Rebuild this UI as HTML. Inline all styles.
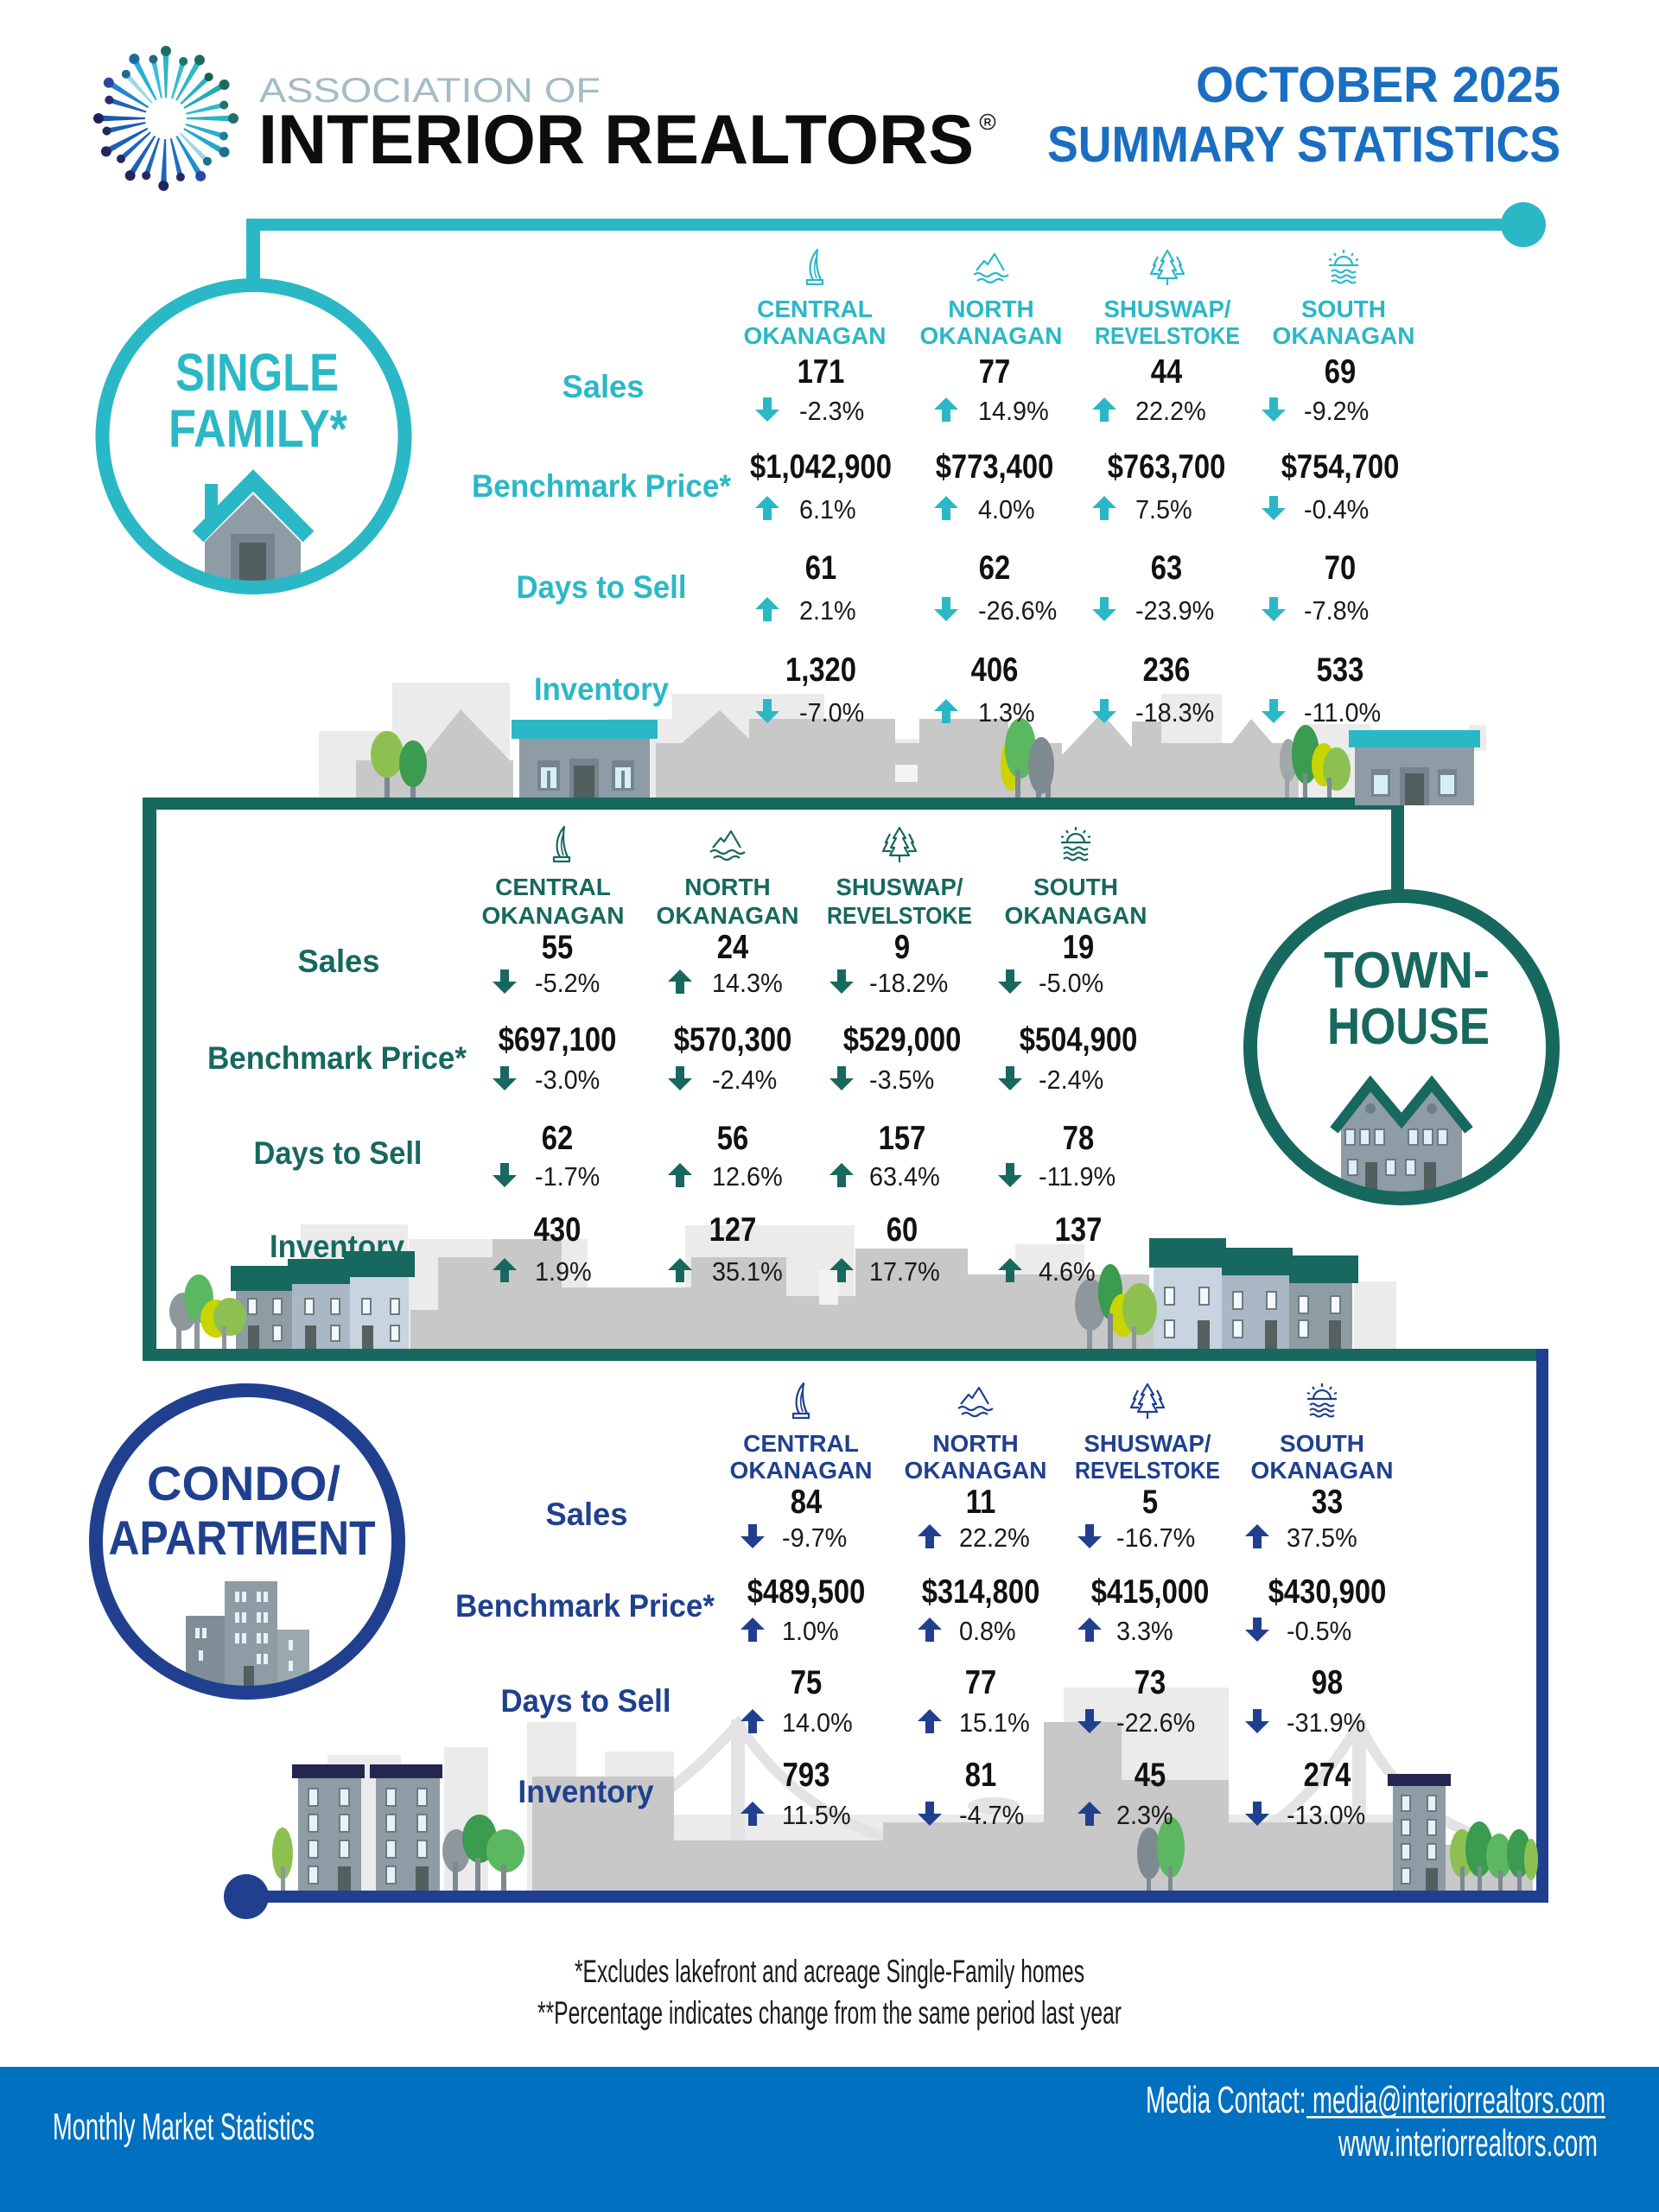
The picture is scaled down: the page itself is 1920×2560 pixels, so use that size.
<!DOCTYPE html>
<html><head><meta charset="utf-8"><style>
html,body{margin:0;padding:0;background:#fff;}
svg{display:block;}
text{font-family:"Liberation Sans",Arial,sans-serif;}
.v{font-weight:bold;font-size:39px;fill:#111;}
.p{font-size:31px;fill:#1a1a1a;}
.h{font-weight:bold;font-size:28px;}
.l{font-weight:bold;font-size:37px;}
.lg{fill:#ebebeb}.mg{fill:#c8c8c8}
</style></head><body>
<svg width="1920" height="2560" viewBox="0 0 1920 2560" xmlns="http://www.w3.org/2000/svg">
<rect width="1920" height="2560" fill="#fff"/>
<defs>
<clipPath id="c1"><circle cx="293.5" cy="505" r="172"/></clipPath>
<clipPath id="c2"><circle cx="1622" cy="1212" r="172"/></clipPath>
<clipPath id="c3"><circle cx="286" cy="1784" r="172"/></clipPath>
</defs>

<!-- ===== LOGO STARBURST ===== -->
<g transform="translate(192 137)">
<g transform="rotate(0)"><polygon points="-1,-24 1,-24 3.5,-78 -3.5,-78" fill="#2fb3c6"/><circle cx="0" cy="-78" r="6" fill="#1b6f62"/></g>
<g transform="rotate(17)"><polygon points="-1,-24 1,-24 3,-69 -3,-69" fill="#3bbccc"/><circle cx="0" cy="-69" r="5" fill="#1d7868"/></g>
<g transform="rotate(30)"><polygon points="-1,-24 1,-24 3.5,-78 -3.5,-78" fill="#34b6c6"/><circle cx="0" cy="-78" r="6" fill="#1a6e5e"/></g>
<g transform="rotate(46)"><polygon points="-1,-24 1,-24 3,-69 -3,-69" fill="#2aaebc"/><circle cx="0" cy="-69" r="5" fill="#175f50"/></g>
<g transform="rotate(60)"><polygon points="-1,-24 1,-24 3.5,-78 -3.5,-78" fill="#27a9b8"/><circle cx="0" cy="-78" r="6" fill="#1a6b5c"/></g>
<g transform="rotate(77)"><polygon points="-1,-24 1,-24 3,-69 -3,-69" fill="#33b9c7"/><circle cx="0" cy="-69" r="5" fill="#1d7669"/></g>
<g transform="rotate(90)"><polygon points="-1,-24 1,-24 3.5,-78 -3.5,-78" fill="#2ab4c4"/><circle cx="0" cy="-78" r="6" fill="#226f68"/></g>
<g transform="rotate(107)"><polygon points="-1,-24 1,-24 3,-70 -3,-70" fill="#27aed0"/><circle cx="0" cy="-70" r="5" fill="#1f7f98"/></g>
<g transform="rotate(120)"><polygon points="-1,-24 1,-24 3.5,-78 -3.5,-78" fill="#25a6cc"/><circle cx="0" cy="-78" r="6" fill="#1f6f90"/></g>
<g transform="rotate(136)"><polygon points="-1,-24 1,-24 3,-69 -3,-69" fill="#9fd4e4"/><circle cx="0" cy="-69" r="5" fill="#1e6f8a"/></g>
<g transform="rotate(149)"><polygon points="-1,-24 1,-24 3.5,-78 -3.5,-78" fill="#1f8ed0"/><circle cx="0" cy="-78" r="6" fill="#2a46a6"/></g>
<g transform="rotate(166)"><polygon points="-1,-24 1,-24 3,-70 -3,-70" fill="#1f6ec0"/><circle cx="0" cy="-70" r="5" fill="#24296a"/></g>
<g transform="rotate(182)"><polygon points="-1,-24 1,-24 3.5,-78 -3.5,-78" fill="#1e64bb"/><circle cx="0" cy="-78" r="6" fill="#212260"/></g>
<g transform="rotate(199)"><polygon points="-1,-24 1,-24 3,-70 -3,-70" fill="#1f68bd"/><circle cx="0" cy="-70" r="5" fill="#242a6a"/></g>
<g transform="rotate(212)"><polygon points="-1,-24 1,-24 3.5,-78 -3.5,-78" fill="#1f62b8"/><circle cx="0" cy="-78" r="6" fill="#23275f"/></g>
<g transform="rotate(228)"><polygon points="-1,-24 1,-24 3,-70 -3,-70" fill="#1e64ba"/><circle cx="0" cy="-70" r="5" fill="#242866"/></g>
<g transform="rotate(241)"><polygon points="-1,-24 1,-24 3.5,-79 -3.5,-79" fill="#1e60b6"/><circle cx="0" cy="-79" r="6" fill="#232660"/></g>
<g transform="rotate(258)"><polygon points="-1,-24 1,-24 3,-70 -3,-70" fill="#1e5db3"/><circle cx="0" cy="-70" r="5" fill="#252866"/></g>
<g transform="rotate(270)"><polygon points="-1,-24 1,-24 3.5,-78 -3.5,-78" fill="#1c58ae"/><circle cx="0" cy="-78" r="6" fill="#201f5c"/></g>
<g transform="rotate(288)"><polygon points="-1,-24 1,-24 3,-69 -3,-69" fill="#1f62b8"/><circle cx="0" cy="-69" r="5" fill="#262c6e"/></g>
<g transform="rotate(302)"><polygon points="-1,-24 1,-24 3.5,-78 -3.5,-78" fill="#2386cb"/><circle cx="0" cy="-78" r="6" fill="#2b47a6"/></g>
<g transform="rotate(318)"><polygon points="-1,-24 1,-24 3,-69 -3,-69" fill="#9ed5e8"/><circle cx="0" cy="-69" r="5" fill="#1e6a8e"/></g>
<g transform="rotate(332)"><polygon points="-1,-24 1,-24 3.5,-78 -3.5,-78" fill="#2aaed4"/><circle cx="0" cy="-78" r="6" fill="#1d6a98"/></g>
<g transform="rotate(348)"><polygon points="-1,-24 1,-24 3,-70 -3,-70" fill="#3cbcd6"/><circle cx="0" cy="-70" r="5" fill="#1e6882"/></g>
</g>

<text x="300" y="118" font-size="40" fill="#a3bcc6" textLength="395" lengthAdjust="spacingAndGlyphs">ASSOCIATION OF</text>
<text x="299" y="189" font-size="81" font-weight="bold" fill="#0d0d0d" textLength="828" lengthAdjust="spacingAndGlyphs">INTERIOR REALTORS</text>
<circle cx="1143" cy="141" r="8.5" fill="none" stroke="#222" stroke-width="1.6"/>
<text x="1143" y="145.5" font-size="12" font-weight="bold" text-anchor="middle" fill="#222">R</text>
<text x="1806" y="118" font-size="58" font-weight="bold" fill="#1a6ec1" text-anchor="end" textLength="422" lengthAdjust="spacingAndGlyphs">OCTOBER 2025</text>
<text x="1806" y="187" font-size="58" font-weight="bold" fill="#1a6ec1" text-anchor="end" textLength="594" lengthAdjust="spacingAndGlyphs">SUMMARY STATISTICS</text>

<!-- ===== SECTION 1: SINGLE FAMILY (teal) ===== -->
<rect x="285" y="253" width="1478" height="14" fill="#2bb8c6"/>
<circle cx="1763" cy="260" r="26" fill="#2bb8c6"/>
<rect x="285" y="253" width="16" height="80" fill="#2bb8c6"/>
<g clip-path="url(#c1)">
<polygon points="237,627 293,572 348,627 348,690 237,690" fill="#8d9ca5"/>
<rect x="267" y="618" width="51" height="72" fill="#76858d"/>
<rect x="277" y="628" width="31" height="62" fill="#525f5f"/>
<rect x="237" y="560" width="15" height="40" fill="#2bb8c6"/>
<polyline points="229,621 293,556 357,621" fill="none" stroke="#2bb8c6" stroke-width="18"/>
</g>
<circle cx="293.5" cy="505" r="175" fill="none" stroke="#2bb8c6" stroke-width="16"/>
<text x="297.5" y="452" text-anchor="middle" font-size="61" font-weight="bold" fill="#2bb8c6" textLength="189" lengthAdjust="spacingAndGlyphs">SINGLE</text>
<text x="298.5" y="517" text-anchor="middle" font-size="61" font-weight="bold" fill="#2bb8c6" textLength="207" lengthAdjust="spacingAndGlyphs">FAMILY*</text>

<!-- icons sec1 -->
<g fill="none" stroke="#2bb8c6" stroke-width="2.2" stroke-linejoin="round">
<g transform="translate(921 287)"><path d="M13,37 L31,37 L31,42 L13,42 Z"/><path d="M20,37 C14,27 16,12 25,2 C23,14 24,26 29,37"/><path d="M24,35 C21,27 21,18 24,10" stroke-width="1.6"/></g>
<g transform="translate(1125 287)"><path d="M5,26 L14,15 L18,19 L26,7 L37,26"/><path d="M2,31 q5,-4 10,0 t10,0 t10,0 t10,0"/><path d="M6,38 q5,-4 10,0 t10,0 t10,0"/></g>
<g transform="translate(1329 287)"><path d="M22,3 L15,15 L18,15 L12,26 L16,26 L11,35 L33,35 L28,26 L32,26 L26,15 L29,15 Z"/><path d="M11,10 L6,20 L8,20 L3,30 L12,30"/><path d="M33,10 L38,20 L36,20 L41,30 L32,30"/><path d="M22,35 L22,43"/></g>
<g transform="translate(1533 287)"><path d="M12,20 A10,10 0 0 1 32,20"/><path d="M5,20 L39,20"/><path d="M22,2 L22,6 M11,6 L13,9 M33,6 L31,9 M5,13 L8,14 M39,13 L36,14"/><path d="M8,27 q3.5,-3 7,0 t7,0 t7,0 t7,0"/><path d="M8,33 q3.5,-3 7,0 t7,0 t7,0 t7,0"/><path d="M8,39 q3.5,-3 7,0 t7,0 t7,0 t7,0"/></g>
</g>
<g class="h" fill="#2bb8c6" text-anchor="middle">
<text x="943" y="367">CENTRAL</text><text x="943" y="398">OKANAGAN</text>
<text x="1147" y="367">NORTH</text><text x="1147" y="398">OKANAGAN</text>
<text x="1351" y="367" textLength="147" lengthAdjust="spacingAndGlyphs">SHUSWAP/</text><text x="1351" y="398" textLength="168" lengthAdjust="spacingAndGlyphs">REVELSTOKE</text>
<text x="1555" y="367">SOUTH</text><text x="1555" y="398">OKANAGAN</text>
</g>

<!-- skyline sec1 -->
<g>
<rect class="lg" x="369" y="846" width="86" height="77"/>
<rect class="lg" x="454" y="790" width="136" height="133"/>
<rect class="lg" x="702" y="832" width="76" height="91"/>
<rect class="lg" x="778" y="803" width="176" height="120"/>
<rect class="lg" x="1036" y="855" width="28" height="68"/>
<rect class="lg" x="1344" y="803" width="70" height="120"/>
<rect class="lg" x="1505" y="838" width="82" height="85"/>
<rect class="lg" x="1700" y="839" width="20" height="30"/>
<rect class="mg" x="412" y="880" width="182" height="43"/>
<polygon class="mg" points="486,880 533,821 590,880"/>
<rect class="mg" x="759" y="860" width="470" height="63"/>
<polygon class="mg" points="789,860 833,822 872,860"/>
<rect class="mg" x="867" y="832" width="169" height="91"/>
<rect class="mg" x="1064" y="832" width="103" height="91"/>
<rect class="mg" x="1223" y="880" width="280" height="43"/>
<polygon class="mg" points="1223,880 1275,825 1323,880"/>
<rect class="mg" x="1310" y="835" width="34" height="88"/>
<rect class="mg" x="1344" y="860" width="143" height="63"/>
<polygon class="mg" points="1410,880 1448,832 1490,880"/>
<rect x="1036" y="885" width="26" height="20" fill="#f4f4f4"/>
<!-- house 1 -->
<rect x="592" y="833" width="169" height="22" fill="#2bb8c6"/>
<rect x="601" y="855" width="151" height="68" fill="#8d9ca5"/>
<rect x="622" y="880" width="26" height="35" fill="#76858d"/><rect x="626" y="888" width="18" height="24" fill="#d6eef5"/><rect x="633" y="892" width="4" height="20" fill="#76858d"/>
<rect x="708" y="880" width="26" height="35" fill="#76858d"/><rect x="712" y="888" width="18" height="24" fill="#d6eef5"/><rect x="719" y="892" width="4" height="20" fill="#76858d"/>
<rect x="659" y="878" width="34" height="45" fill="#76858d"/><rect x="664" y="886" width="24" height="37" fill="#525f5f"/>
<!-- trees -->
<rect x="445" y="885" width="6" height="38" fill="#7d8a8f"/><ellipse cx="448" cy="873" rx="19" ry="27" fill="#8cc152"/>
<rect x="475" y="890" width="6" height="33" fill="#7d8a8f"/><ellipse cx="478" cy="884" rx="16" ry="27" fill="#3b9b4f"/>
<ellipse cx="1170" cy="885" rx="12" ry="30" fill="#c9d400"/>
<ellipse cx="1181" cy="866" rx="18" ry="35" fill="#5cb860"/>
<rect x="1175" y="890" width="6" height="33" fill="#7d8a8f"/>
<ellipse cx="1205" cy="886" rx="15" ry="33" fill="#7d8a8f"/>
<rect x="1199" y="905" width="6" height="18" fill="#7d8a8f"/><rect x="1210" y="905" width="6" height="18" fill="#7d8a8f"/>
<ellipse cx="1491" cy="880" rx="10" ry="25" fill="#a0a8aa"/>
<ellipse cx="1511" cy="873" rx="16" ry="34" fill="#3b9b4f"/>
<ellipse cx="1532" cy="885" rx="14" ry="25" fill="#c9d400"/>
<ellipse cx="1547" cy="890" rx="16" ry="25" fill="#8cc152"/>
<rect x="1487" y="895" width="5" height="28" fill="#9aa4a6"/><rect x="1508" y="895" width="5" height="28" fill="#7d8a8f"/><rect x="1536" y="900" width="5" height="23" fill="#7d8a8f"/>
</g>

<!-- ===== SECTION 2 BOX ===== -->
<rect x="165" y="923" width="1460" height="14" fill="#17685e"/>
<rect x="165" y="923" width="16" height="652" fill="#17685e"/>
<rect x="1610" y="923" width="15" height="110" fill="#17685e"/>
<rect x="165" y="1561" width="1615" height="14" fill="#17685e"/>

<!-- house 2 (on top of line) -->
<rect x="1561" y="845" width="152" height="20" fill="#2bb8c6"/>
<rect x="1568" y="865" width="138" height="67" fill="#8d9ca5"/>
<rect x="1587" y="890" width="22" height="32" fill="#76858d"/><rect x="1590" y="897" width="16" height="22" fill="#d6eef5"/>
<rect x="1664" y="890" width="22" height="32" fill="#76858d"/><rect x="1667" y="897" width="16" height="22" fill="#d6eef5"/>
<rect x="1620" y="888" width="34" height="44" fill="#76858d"/><rect x="1626" y="895" width="22" height="37" fill="#525f5f"/>

<!-- sec1 labels and values -->
<g class="l" fill="#2bb8c6" text-anchor="middle">
<text x="698" y="460" textLength="95" lengthAdjust="spacingAndGlyphs">Sales</text>
<text x="696" y="575" textLength="300" lengthAdjust="spacingAndGlyphs">Benchmark Price*</text>
<text x="696" y="692" textLength="197" lengthAdjust="spacingAndGlyphs">Days to Sell</text>
<text x="696" y="810" textLength="156" lengthAdjust="spacingAndGlyphs">Inventory</text>
</g>
<g class="v" text-anchor="middle">
<text transform="translate(950 443) scale(0.84 1)">171</text>
<text transform="translate(1151 443) scale(0.84 1)">77</text>
<text transform="translate(1350 443) scale(0.84 1)">44</text>
<text transform="translate(1551 443) scale(0.84 1)">69</text>
<text transform="translate(950 553) scale(0.84 1)">$1,042,900</text>
<text transform="translate(1151 553) scale(0.84 1)">$773,400</text>
<text transform="translate(1350 553) scale(0.84 1)">$763,700</text>
<text transform="translate(1551 553) scale(0.84 1)">$754,700</text>
<text transform="translate(950 670) scale(0.84 1)">61</text>
<text transform="translate(1151 670) scale(0.84 1)">62</text>
<text transform="translate(1350 670) scale(0.84 1)">63</text>
<text transform="translate(1551 670) scale(0.84 1)">70</text>
<text transform="translate(950 788) scale(0.84 1)">1,320</text>
<text transform="translate(1151 788) scale(0.84 1)">406</text>
<text transform="translate(1350 788) scale(0.84 1)">236</text>
<text transform="translate(1551 788) scale(0.84 1)">533</text>
</g>
<g class="p">
<text transform="translate(925 486) scale(0.93 1)">-2.3%</text>
<text transform="translate(1132 486) scale(0.93 1)">14.9%</text>
<text transform="translate(1314 486) scale(0.93 1)">22.2%</text>
<text transform="translate(1509 486) scale(0.93 1)">-9.2%</text>
<text transform="translate(925 600) scale(0.93 1)">6.1%</text>
<text transform="translate(1132 600) scale(0.93 1)">4.0%</text>
<text transform="translate(1314 600) scale(0.93 1)">7.5%</text>
<text transform="translate(1509 600) scale(0.93 1)">-0.4%</text>
<text transform="translate(925 717) scale(0.93 1)">2.1%</text>
<text transform="translate(1132 717) scale(0.93 1)">-26.6%</text>
<text transform="translate(1314 717) scale(0.93 1)">-23.9%</text>
<text transform="translate(1509 717) scale(0.93 1)">-7.8%</text>
<text transform="translate(925 835) scale(0.93 1)">-7.0%</text>
<text transform="translate(1132 835) scale(0.93 1)">1.3%</text>
<text transform="translate(1314 835) scale(0.93 1)">-18.3%</text>
<text transform="translate(1509 835) scale(0.93 1)">-11.0%</text>
</g>
<g fill="#2bb8c6">
<polygon transform="translate(888 474)" points="-5,-14 5,-14 5,0 14,0 0,14 -14,0 -5,0"/>
<polygon transform="translate(1095 474)" points="-5,14 5,14 5,0 14,0 0,-14 -14,0 -5,0"/>
<polygon transform="translate(1278 474)" points="-5,14 5,14 5,0 14,0 0,-14 -14,0 -5,0"/>
<polygon transform="translate(1474 474)" points="-5,-14 5,-14 5,0 14,0 0,14 -14,0 -5,0"/>
<polygon transform="translate(888 588)" points="-5,14 5,14 5,0 14,0 0,-14 -14,0 -5,0"/>
<polygon transform="translate(1095 588)" points="-5,14 5,14 5,0 14,0 0,-14 -14,0 -5,0"/>
<polygon transform="translate(1278 588)" points="-5,14 5,14 5,0 14,0 0,-14 -14,0 -5,0"/>
<polygon transform="translate(1474 588)" points="-5,-14 5,-14 5,0 14,0 0,14 -14,0 -5,0"/>
<polygon transform="translate(888 705)" points="-5,14 5,14 5,0 14,0 0,-14 -14,0 -5,0"/>
<polygon transform="translate(1095 705)" points="-5,-14 5,-14 5,0 14,0 0,14 -14,0 -5,0"/>
<polygon transform="translate(1278 705)" points="-5,-14 5,-14 5,0 14,0 0,14 -14,0 -5,0"/>
<polygon transform="translate(1474 705)" points="-5,-14 5,-14 5,0 14,0 0,14 -14,0 -5,0"/>
<polygon transform="translate(888 823)" points="-5,-14 5,-14 5,0 14,0 0,14 -14,0 -5,0"/>
<polygon transform="translate(1095 823)" points="-5,14 5,14 5,0 14,0 0,-14 -14,0 -5,0"/>
<polygon transform="translate(1278 823)" points="-5,-14 5,-14 5,0 14,0 0,14 -14,0 -5,0"/>
<polygon transform="translate(1474 823)" points="-5,-14 5,-14 5,0 14,0 0,14 -14,0 -5,0"/>
</g>

<!-- ===== SECTION 2: TOWNHOUSE (green) ===== -->
<g clip-path="url(#c2)">
<polygon points="1552,1302 1586,1260 1622,1300 1657,1260 1692,1302 1692,1395 1552,1395" fill="#8d9ca5"/>
<circle cx="1586" cy="1283" r="6" fill="#6f7f88"/><circle cx="1657" cy="1283" r="6" fill="#6f7f88"/>
<g fill="#dcf0f6" stroke="#6c7b83" stroke-width="2">
<rect x="1557" y="1307" width="11" height="18"/><rect x="1574" y="1307" width="11" height="18"/><rect x="1591" y="1307" width="11" height="18"/>
<rect x="1630" y="1307" width="11" height="18"/><rect x="1647" y="1307" width="11" height="18"/><rect x="1664" y="1307" width="11" height="18"/>
<rect x="1560" y="1342" width="11" height="18"/><rect x="1604" y="1342" width="11" height="18"/><rect x="1627" y="1342" width="11" height="18"/>
</g>
<rect x="1580" y="1345" width="14" height="40" fill="#525f5f"/><rect x="1648" y="1345" width="14" height="40" fill="#525f5f"/>
<polyline points="1544,1308 1586,1254 1622,1297 1657,1254 1700,1308" fill="none" stroke="#17685e" stroke-width="12"/>
</g>
<circle cx="1622" cy="1212" r="175" fill="none" stroke="#17685e" stroke-width="16"/>
<text x="1628" y="1143" text-anchor="middle" font-size="59" font-weight="bold" fill="#17685e" textLength="192" lengthAdjust="spacingAndGlyphs">TOWN-</text>
<text x="1630" y="1208" text-anchor="middle" font-size="59" font-weight="bold" fill="#17685e" textLength="188" lengthAdjust="spacingAndGlyphs">HOUSE</text>

<g fill="none" stroke="#17685e" stroke-width="2.2" stroke-linejoin="round">
<g transform="translate(628 955)"><path d="M13,37 L31,37 L31,42 L13,42 Z"/><path d="M20,37 C14,27 16,12 25,2 C23,14 24,26 29,37"/><path d="M24,35 C21,27 21,18 24,10" stroke-width="1.6"/></g>
<g transform="translate(820 955)"><path d="M5,26 L14,15 L18,19 L26,7 L37,26"/><path d="M2,31 q5,-4 10,0 t10,0 t10,0 t10,0"/><path d="M6,38 q5,-4 10,0 t10,0 t10,0"/></g>
<g transform="translate(1019 955)"><path d="M22,3 L15,15 L18,15 L12,26 L16,26 L11,35 L33,35 L28,26 L32,26 L26,15 L29,15 Z"/><path d="M11,10 L6,20 L8,20 L3,30 L12,30"/><path d="M33,10 L38,20 L36,20 L41,30 L32,30"/><path d="M22,35 L22,43"/></g>
<g transform="translate(1223 955)"><path d="M12,20 A10,10 0 0 1 32,20"/><path d="M5,20 L39,20"/><path d="M22,2 L22,6 M11,6 L13,9 M33,6 L31,9 M5,13 L8,14 M39,13 L36,14"/><path d="M8,27 q3.5,-3 7,0 t7,0 t7,0 t7,0"/><path d="M8,33 q3.5,-3 7,0 t7,0 t7,0 t7,0"/><path d="M8,39 q3.5,-3 7,0 t7,0 t7,0 t7,0"/></g>
</g>
<g class="h" fill="#17685e" text-anchor="middle">
<text x="640" y="1036">CENTRAL</text><text x="640" y="1069">OKANAGAN</text>
<text x="842" y="1036">NORTH</text><text x="842" y="1069">OKANAGAN</text>
<text x="1041" y="1036" textLength="147" lengthAdjust="spacingAndGlyphs">SHUSWAP/</text><text x="1041" y="1069" textLength="168" lengthAdjust="spacingAndGlyphs">REVELSTOKE</text>
<text x="1245" y="1036">SOUTH</text><text x="1245" y="1069">OKANAGAN</text>
</g>

<!-- skyline sec2 background -->
<g>
<rect class="lg" x="348" y="1417" width="124" height="144"/>
<rect class="lg" x="473" y="1434" width="207" height="127"/>
<rect class="lg" x="793" y="1418" width="196" height="143"/>
<rect class="lg" x="1175" y="1440" width="80" height="121"/>
<rect class="lg" x="1567" y="1483" width="49" height="78"/>
<rect class="mg" x="507" y="1455" width="63" height="106"/>
<rect class="mg" x="570" y="1434" width="80" height="127"/>
<rect class="mg" x="650" y="1490" width="150" height="71"/>
<rect class="mg" x="800" y="1455" width="110" height="106"/>
<rect class="mg" x="910" y="1500" width="80" height="61"/>
<rect class="mg" x="990" y="1445" width="130" height="116"/>
<rect class="mg" x="1120" y="1475" width="210" height="86"/>
<rect class="mg" x="475" y="1516" width="860" height="45"/>
<rect x="948" y="1470" width="22" height="40" fill="#f2f2f2"/>
</g>

<!-- Inventory label sec2 (over skyline, behind roofs) -->
<text class="l" x="390" y="1455" fill="#17685e" text-anchor="middle" textLength="156" lengthAdjust="spacingAndGlyphs">Inventory</text>

<g>
<!-- left townhouses -->
<rect x="267" y="1465" width="73" height="29" fill="#17685e"/>
<rect x="333" y="1457" width="74" height="29" fill="#17685e"/>
<rect x="398" y="1448" width="82" height="30" fill="#17685e"/>
<rect x="273" y="1494" width="65" height="67" fill="#8e9ca4"/>
<rect x="338" y="1486" width="67" height="75" fill="#a9b8c4"/>
<rect x="405" y="1478" width="68" height="83" fill="#c8d4df"/>
<g fill="#f2f8fb" stroke="#6c7b83" stroke-width="2">
<rect x="287" y="1503" width="10" height="18"/><rect x="316" y="1503" width="10" height="18"/>
<rect x="353" y="1503" width="10" height="18"/><rect x="383" y="1503" width="10" height="18"/>
<rect x="419" y="1503" width="10" height="18"/><rect x="452" y="1503" width="10" height="18"/>
<rect x="316" y="1534" width="10" height="18"/><rect x="383" y="1534" width="10" height="18"/><rect x="452" y="1534" width="10" height="18"/>
</g>
<rect x="287" y="1534" width="13" height="27" fill="#56605f"/><rect x="353" y="1534" width="13" height="27" fill="#56605f"/><rect x="419" y="1534" width="13" height="27" fill="#56605f"/>
<ellipse cx="212" cy="1518" rx="16" ry="22" fill="#8e979b"/>
<ellipse cx="230" cy="1503" rx="17" ry="28" fill="#5cb860"/>
<ellipse cx="250" cy="1526" rx="18" ry="22" fill="#c9d400"/>
<ellipse cx="266" cy="1524" rx="19" ry="22" fill="#8cc152"/>
<rect x="204" y="1530" width="6" height="31" fill="#8e979b"/><rect x="225" y="1525" width="6" height="36" fill="#8e979b"/><rect x="257" y="1535" width="5" height="26" fill="#8e979b"/>
<!-- right townhouses -->
<rect x="1330" y="1433" width="89" height="34" fill="#17685e"/>
<rect x="1414" y="1444" width="82" height="32" fill="#17685e"/>
<rect x="1490" y="1453" width="82" height="32" fill="#17685e"/>
<rect x="1335" y="1467" width="79" height="94" fill="#c8d4df"/>
<rect x="1414" y="1476" width="78" height="85" fill="#a9b8c4"/>
<rect x="1492" y="1485" width="73" height="76" fill="#8e9ca4"/>
<g fill="#f2f8fb" stroke="#6c7b83" stroke-width="2">
<rect x="1348" y="1490" width="11" height="20"/><rect x="1388" y="1490" width="11" height="20"/>
<rect x="1427" y="1495" width="11" height="20"/><rect x="1466" y="1495" width="11" height="20"/>
<rect x="1503" y="1500" width="11" height="20"/><rect x="1540" y="1500" width="11" height="20"/>
<rect x="1348" y="1528" width="11" height="20"/><rect x="1427" y="1528" width="11" height="20"/><rect x="1503" y="1528" width="11" height="20"/>
</g>
<rect x="1386" y="1528" width="14" height="33" fill="#56605f"/><rect x="1464" y="1528" width="14" height="33" fill="#56605f"/><rect x="1538" y="1528" width="14" height="33" fill="#56605f"/>
<ellipse cx="1262" cy="1510" rx="18" ry="30" fill="#8e979b"/>
<ellipse cx="1285" cy="1495" rx="14" ry="32" fill="#3b9b4f"/>
<ellipse cx="1300" cy="1522" rx="16" ry="25" fill="#c9d400"/>
<ellipse cx="1319" cy="1515" rx="20" ry="30" fill="#8cc152"/>
<rect x="1258" y="1530" width="6" height="31" fill="#8e979b"/><rect x="1282" y="1520" width="6" height="41" fill="#7d8a8f"/><rect x="1310" y="1535" width="5" height="26" fill="#8e979b"/>
</g>

<!-- sec2 labels/values -->
<g class="l" fill="#17685e" text-anchor="middle">
<text x="392" y="1125" textLength="95" lengthAdjust="spacingAndGlyphs">Sales</text>
<text x="390" y="1237" textLength="300" lengthAdjust="spacingAndGlyphs">Benchmark Price*</text>
<text x="391" y="1347" textLength="195" lengthAdjust="spacingAndGlyphs">Days to Sell</text>
</g>
<g class="v" text-anchor="middle">
<text transform="translate(645 1109) scale(0.84 1)">55</text>
<text transform="translate(848 1109) scale(0.84 1)">24</text>
<text transform="translate(1044 1109) scale(0.84 1)">9</text>
<text transform="translate(1248 1109) scale(0.84 1)">19</text>
<text transform="translate(645 1216) scale(0.84 1)">$697,100</text>
<text transform="translate(848 1216) scale(0.84 1)">$570,300</text>
<text transform="translate(1044 1216) scale(0.84 1)">$529,000</text>
<text transform="translate(1248 1216) scale(0.84 1)">$504,900</text>
<text transform="translate(645 1330) scale(0.84 1)">62</text>
<text transform="translate(848 1330) scale(0.84 1)">56</text>
<text transform="translate(1044 1330) scale(0.84 1)">157</text>
<text transform="translate(1248 1330) scale(0.84 1)">78</text>
<text transform="translate(645 1436) scale(0.84 1)">430</text>
<text transform="translate(848 1436) scale(0.84 1)">127</text>
<text transform="translate(1044 1436) scale(0.84 1)">60</text>
<text transform="translate(1248 1436) scale(0.84 1)">137</text>
</g>
<g class="p">
<text transform="translate(619 1148) scale(0.93 1)">-5.2%</text>
<text transform="translate(824 1148) scale(0.93 1)">14.3%</text>
<text transform="translate(1006 1148) scale(0.93 1)">-18.2%</text>
<text transform="translate(1202 1148) scale(0.93 1)">-5.0%</text>
<text transform="translate(619 1260) scale(0.93 1)">-3.0%</text>
<text transform="translate(824 1260) scale(0.93 1)">-2.4%</text>
<text transform="translate(1006 1260) scale(0.93 1)">-3.5%</text>
<text transform="translate(1202 1260) scale(0.93 1)">-2.4%</text>
<text transform="translate(619 1372) scale(0.93 1)">-1.7%</text>
<text transform="translate(824 1372) scale(0.93 1)">12.6%</text>
<text transform="translate(1006 1372) scale(0.93 1)">63.4%</text>
<text transform="translate(1202 1372) scale(0.93 1)">-11.9%</text>
<text transform="translate(619 1482) scale(0.93 1)">1.9%</text>
<text transform="translate(824 1482) scale(0.93 1)">35.1%</text>
<text transform="translate(1006 1482) scale(0.93 1)">17.7%</text>
<text transform="translate(1202 1482) scale(0.93 1)">4.6%</text>
</g>
<g fill="#17685e">
<polygon transform="translate(584 1136)" points="-5,-14 5,-14 5,0 14,0 0,14 -14,0 -5,0"/>
<polygon transform="translate(787 1136)" points="-5,14 5,14 5,0 14,0 0,-14 -14,0 -5,0"/>
<polygon transform="translate(974 1136)" points="-5,-14 5,-14 5,0 14,0 0,14 -14,0 -5,0"/>
<polygon transform="translate(1169 1136)" points="-5,-14 5,-14 5,0 14,0 0,14 -14,0 -5,0"/>
<polygon transform="translate(584 1248)" points="-5,-14 5,-14 5,0 14,0 0,14 -14,0 -5,0"/>
<polygon transform="translate(787 1248)" points="-5,-14 5,-14 5,0 14,0 0,14 -14,0 -5,0"/>
<polygon transform="translate(974 1248)" points="-5,-14 5,-14 5,0 14,0 0,14 -14,0 -5,0"/>
<polygon transform="translate(1169 1248)" points="-5,-14 5,-14 5,0 14,0 0,14 -14,0 -5,0"/>
<polygon transform="translate(584 1360)" points="-5,-14 5,-14 5,0 14,0 0,14 -14,0 -5,0"/>
<polygon transform="translate(787 1360)" points="-5,14 5,14 5,0 14,0 0,-14 -14,0 -5,0"/>
<polygon transform="translate(974 1360)" points="-5,14 5,14 5,0 14,0 0,-14 -14,0 -5,0"/>
<polygon transform="translate(1169 1360)" points="-5,-14 5,-14 5,0 14,0 0,14 -14,0 -5,0"/>
<polygon transform="translate(584 1470)" points="-5,14 5,14 5,0 14,0 0,-14 -14,0 -5,0"/>
<polygon transform="translate(787 1470)" points="-5,14 5,14 5,0 14,0 0,-14 -14,0 -5,0"/>
<polygon transform="translate(974 1470)" points="-5,14 5,14 5,0 14,0 0,-14 -14,0 -5,0"/>
<polygon transform="translate(1169 1470)" points="-5,14 5,14 5,0 14,0 0,-14 -14,0 -5,0"/>
</g>

<!-- ===== SECTION 3: CONDO (navy) ===== -->
<rect x="1778" y="1561" width="14" height="641" fill="#20408f"/>
<rect x="285" y="2188" width="1507" height="14" fill="#20408f"/>
<circle cx="285" cy="2195" r="26" fill="#20408f"/>
<g clip-path="url(#c3)">
<rect x="215" y="1870" width="47" height="90" fill="#7f8e96"/>
<rect x="320" y="1886" width="38" height="74" fill="#9aa8af"/>
<rect x="260" y="1830" width="61" height="130" fill="#8d9ca5"/>
<g fill="#e6f2f6">
<rect x="272" y="1842" width="5" height="12"/><rect x="280" y="1842" width="5" height="12"/><rect x="297" y="1842" width="5" height="12"/><rect x="305" y="1842" width="5" height="12"/>
<rect x="272" y="1866" width="5" height="12"/><rect x="280" y="1866" width="5" height="12"/><rect x="297" y="1866" width="5" height="12"/><rect x="305" y="1866" width="5" height="12"/>
<rect x="272" y="1890" width="5" height="12"/><rect x="280" y="1890" width="5" height="12"/><rect x="297" y="1890" width="5" height="12"/><rect x="305" y="1890" width="5" height="12"/>
<rect x="297" y="1914" width="5" height="12"/><rect x="305" y="1914" width="5" height="12"/>
<rect x="226" y="1884" width="5" height="12"/><rect x="234" y="1884" width="5" height="12"/><rect x="230" y="1910" width="5" height="12"/>
<rect x="334" y="1898" width="5" height="12"/><rect x="334" y="1922" width="5" height="12"/>
</g>
<rect x="282" y="1928" width="12" height="32" fill="#525f5f"/>
</g>
<circle cx="286" cy="1784" r="175" fill="none" stroke="#20408f" stroke-width="16"/>
<text x="282" y="1736" text-anchor="middle" font-size="56" font-weight="bold" fill="#20408f" textLength="224" lengthAdjust="spacingAndGlyphs">CONDO/</text>
<text x="280" y="1799" text-anchor="middle" font-size="56" font-weight="bold" fill="#20408f" textLength="309" lengthAdjust="spacingAndGlyphs">APARTMENT</text>

<g fill="none" stroke="#20408f" stroke-width="2.2" stroke-linejoin="round">
<g transform="translate(905 1599)"><path d="M13,37 L31,37 L31,42 L13,42 Z"/><path d="M20,37 C14,27 16,12 25,2 C23,14 24,26 29,37"/><path d="M24,35 C21,27 21,18 24,10" stroke-width="1.6"/></g>
<g transform="translate(1107 1599)"><path d="M5,26 L14,15 L18,19 L26,7 L37,26"/><path d="M2,31 q5,-4 10,0 t10,0 t10,0 t10,0"/><path d="M6,38 q5,-4 10,0 t10,0 t10,0"/></g>
<g transform="translate(1306 1599)"><path d="M22,3 L15,15 L18,15 L12,26 L16,26 L11,35 L33,35 L28,26 L32,26 L26,15 L29,15 Z"/><path d="M11,10 L6,20 L8,20 L3,30 L12,30"/><path d="M33,10 L38,20 L36,20 L41,30 L32,30"/><path d="M22,35 L22,43"/></g>
<g transform="translate(1508 1599)"><path d="M12,20 A10,10 0 0 1 32,20"/><path d="M5,20 L39,20"/><path d="M22,2 L22,6 M11,6 L13,9 M33,6 L31,9 M5,13 L8,14 M39,13 L36,14"/><path d="M8,27 q3.5,-3 7,0 t7,0 t7,0 t7,0"/><path d="M8,33 q3.5,-3 7,0 t7,0 t7,0 t7,0"/><path d="M8,39 q3.5,-3 7,0 t7,0 t7,0 t7,0"/></g>
</g>
<g class="h" fill="#20408f" text-anchor="middle">
<text x="927" y="1680">CENTRAL</text><text x="927" y="1711">OKANAGAN</text>
<text x="1129" y="1680">NORTH</text><text x="1129" y="1711">OKANAGAN</text>
<text x="1328" y="1680" textLength="147" lengthAdjust="spacingAndGlyphs">SHUSWAP/</text><text x="1328" y="1711" textLength="168" lengthAdjust="spacingAndGlyphs">REVELSTOKE</text>
<text x="1530" y="1680">SOUTH</text><text x="1530" y="1711">OKANAGAN</text>
</g>

<!-- skyline sec3 -->
<g>
<rect class="lg" x="379" y="2031" width="85" height="157"/>
<rect class="lg" x="514" y="2022" width="51" height="166"/>
<rect class="lg" x="610" y="1993" width="57" height="195"/>
<rect class="lg" x="700" y="2027" width="80" height="161"/>
<rect class="lg" x="1231" y="1953" width="191" height="235"/>
<rect class="lg" x="780" y="2100" width="840" height="88"/>
<g fill="none" stroke="#e3e3e3" stroke-width="12">
<path d="M700,2120 Q790,2070 854,1995 Q930,2110 1060,2135"/>
<path d="M1430,2135 Q1510,2100 1573,1995 Q1620,2090 1700,2120"/>
</g>
<rect x="846" y="1990" width="16" height="198" fill="#e3e3e3"/>
<rect x="1565" y="1990" width="16" height="198" fill="#e3e3e3"/>
<rect class="mg" x="616" y="2056" width="164" height="132"/>
<rect class="mg" x="780" y="2130" width="242" height="58"/>
<rect class="mg" x="1022" y="2109" width="186" height="79"/>
<rect class="mg" x="1208" y="1993" width="90" height="195"/>
<rect class="mg" x="1298" y="2060" width="124" height="128"/>
<rect class="mg" x="1422" y="2109" width="192" height="79"/>
<rect class="mg" x="1614" y="2135" width="160" height="53"/>
<ellipse cx="1150" cy="2090" rx="30" ry="10" fill="#e3e3e3"/>
<!-- left buildings -->
<rect x="338" y="2042" width="84" height="16" fill="#24264f"/>
<rect x="428" y="2042" width="84" height="16" fill="#24264f"/>
<rect x="345" y="2058" width="73" height="130" fill="#8d9ca5"/>
<rect x="435" y="2058" width="74" height="130" fill="#8d9ca5"/>
<g fill="#e6f2f6" stroke="#6c7b83" stroke-width="2">
<rect x="357" y="2070" width="11" height="20"/><rect x="393" y="2070" width="11" height="20"/><rect x="447" y="2070" width="11" height="20"/><rect x="483" y="2070" width="11" height="20"/>
<rect x="357" y="2100" width="11" height="20"/><rect x="393" y="2100" width="11" height="20"/><rect x="447" y="2100" width="11" height="20"/><rect x="483" y="2100" width="11" height="20"/>
<rect x="357" y="2130" width="11" height="20"/><rect x="393" y="2130" width="11" height="20"/><rect x="447" y="2130" width="11" height="20"/><rect x="483" y="2130" width="11" height="20"/>
<rect x="357" y="2160" width="11" height="20"/><rect x="447" y="2160" width="11" height="20"/>
</g>
<rect x="391" y="2160" width="15" height="28" fill="#525f5f"/><rect x="481" y="2160" width="15" height="28" fill="#525f5f"/>
<!-- right tall building -->
<rect x="1606" y="2053" width="73" height="14" fill="#24264f"/>
<rect x="1612" y="2067" width="61" height="121" fill="#8d9ca5"/>
<g fill="#e6f2f6" stroke="#6c7b83" stroke-width="2">
<rect x="1622" y="2078" width="10" height="18"/><rect x="1652" y="2078" width="10" height="18"/>
<rect x="1622" y="2106" width="10" height="18"/><rect x="1652" y="2106" width="10" height="18"/>
<rect x="1622" y="2134" width="10" height="18"/><rect x="1652" y="2134" width="10" height="18"/>
<rect x="1622" y="2162" width="10" height="18"/>
</g>
<rect x="1650" y="2162" width="14" height="26" fill="#525f5f"/>
<!-- trees -->
<ellipse cx="327" cy="2145" rx="12" ry="30" fill="#8cc152"/><rect x="325" y="2160" width="5" height="28" fill="#8e979b"/>
<ellipse cx="528" cy="2142" rx="16" ry="25" fill="#8e979b"/>
<ellipse cx="555" cy="2128" rx="20" ry="28" fill="#3b9b4f"/>
<ellipse cx="585" cy="2142" rx="22" ry="25" fill="#5cb860"/>
<rect x="524" y="2155" width="6" height="33" fill="#7d8a8f"/><rect x="550" y="2150" width="6" height="38" fill="#7d8a8f"/><rect x="580" y="2158" width="6" height="30" fill="#7d8a8f"/>
<ellipse cx="1330" cy="2145" rx="14" ry="30" fill="#7d8a8f"/>
<ellipse cx="1355" cy="2138" rx="16" ry="35" fill="#5cb860"/>
<rect x="1327" y="2160" width="5" height="28" fill="#7d8a8f"/><rect x="1352" y="2160" width="5" height="28" fill="#7d8a8f"/>
<ellipse cx="1692" cy="2145" rx="14" ry="28" fill="#8cc152"/>
<ellipse cx="1712" cy="2140" rx="16" ry="32" fill="#3b9b4f"/>
<ellipse cx="1735" cy="2148" rx="15" ry="26" fill="#5cb860"/>
<ellipse cx="1758" cy="2145" rx="14" ry="28" fill="#3b9b4f"/>
<ellipse cx="1772" cy="2152" rx="8" ry="24" fill="#8cc152"/>
<rect x="1690" y="2160" width="5" height="28" fill="#7d8a8f"/><rect x="1710" y="2160" width="5" height="28" fill="#7d8a8f"/><rect x="1734" y="2165" width="5" height="23" fill="#7d8a8f"/><rect x="1756" y="2165" width="5" height="23" fill="#7d8a8f"/>
</g>

<!-- sec3 labels/values -->
<g class="l" fill="#20408f" text-anchor="middle">
<text x="679" y="1765" textLength="95" lengthAdjust="spacingAndGlyphs">Sales</text>
<text x="677" y="1871" textLength="300" lengthAdjust="spacingAndGlyphs">Benchmark Price*</text>
<text x="678" y="1981" textLength="197" lengthAdjust="spacingAndGlyphs">Days to Sell</text>
<text x="678" y="2086" textLength="157" lengthAdjust="spacingAndGlyphs">Inventory</text>
</g>
<g class="v" text-anchor="middle">
<text transform="translate(933 1751) scale(0.84 1)">84</text>
<text transform="translate(1135 1751) scale(0.84 1)">11</text>
<text transform="translate(1331 1751) scale(0.84 1)">5</text>
<text transform="translate(1536 1751) scale(0.84 1)">33</text>
<text transform="translate(933 1855) scale(0.84 1)">$489,500</text>
<text transform="translate(1135 1855) scale(0.84 1)">$314,800</text>
<text transform="translate(1331 1855) scale(0.84 1)">$415,000</text>
<text transform="translate(1536 1855) scale(0.84 1)">$430,900</text>
<text transform="translate(933 1960) scale(0.84 1)">75</text>
<text transform="translate(1135 1960) scale(0.84 1)">77</text>
<text transform="translate(1331 1960) scale(0.84 1)">73</text>
<text transform="translate(1536 1960) scale(0.84 1)">98</text>
<text transform="translate(933 2067) scale(0.84 1)">793</text>
<text transform="translate(1135 2067) scale(0.84 1)">81</text>
<text transform="translate(1331 2067) scale(0.84 1)">45</text>
<text transform="translate(1536 2067) scale(0.84 1)">274</text>
</g>
<g class="p">
<text transform="translate(905 1790) scale(0.93 1)">-9.7%</text>
<text transform="translate(1110 1790) scale(0.93 1)">22.2%</text>
<text transform="translate(1292 1790) scale(0.93 1)">-16.7%</text>
<text transform="translate(1489 1790) scale(0.93 1)">37.5%</text>
<text transform="translate(905 1898) scale(0.93 1)">1.0%</text>
<text transform="translate(1110 1898) scale(0.93 1)">0.8%</text>
<text transform="translate(1292 1898) scale(0.93 1)">3.3%</text>
<text transform="translate(1489 1898) scale(0.93 1)">-0.5%</text>
<text transform="translate(905 2004) scale(0.93 1)">14.0%</text>
<text transform="translate(1110 2004) scale(0.93 1)">15.1%</text>
<text transform="translate(1292 2004) scale(0.93 1)">-22.6%</text>
<text transform="translate(1489 2004) scale(0.93 1)">-31.9%</text>
<text transform="translate(905 2111) scale(0.93 1)">11.5%</text>
<text transform="translate(1110 2111) scale(0.93 1)">-4.7%</text>
<text transform="translate(1292 2111) scale(0.93 1)">2.3%</text>
<text transform="translate(1489 2111) scale(0.93 1)">-13.0%</text>
</g>
<g fill="#20408f">
<polygon transform="translate(871 1778)" points="-5,-14 5,-14 5,0 14,0 0,14 -14,0 -5,0"/>
<polygon transform="translate(1076 1778)" points="-5,14 5,14 5,0 14,0 0,-14 -14,0 -5,0"/>
<polygon transform="translate(1261 1778)" points="-5,-14 5,-14 5,0 14,0 0,14 -14,0 -5,0"/>
<polygon transform="translate(1455 1778)" points="-5,14 5,14 5,0 14,0 0,-14 -14,0 -5,0"/>
<polygon transform="translate(871 1886)" points="-5,14 5,14 5,0 14,0 0,-14 -14,0 -5,0"/>
<polygon transform="translate(1076 1886)" points="-5,14 5,14 5,0 14,0 0,-14 -14,0 -5,0"/>
<polygon transform="translate(1261 1886)" points="-5,14 5,14 5,0 14,0 0,-14 -14,0 -5,0"/>
<polygon transform="translate(1455 1886)" points="-5,-14 5,-14 5,0 14,0 0,14 -14,0 -5,0"/>
<polygon transform="translate(871 1992)" points="-5,14 5,14 5,0 14,0 0,-14 -14,0 -5,0"/>
<polygon transform="translate(1076 1992)" points="-5,14 5,14 5,0 14,0 0,-14 -14,0 -5,0"/>
<polygon transform="translate(1261 1992)" points="-5,-14 5,-14 5,0 14,0 0,14 -14,0 -5,0"/>
<polygon transform="translate(1455 1992)" points="-5,-14 5,-14 5,0 14,0 0,14 -14,0 -5,0"/>
<polygon transform="translate(871 2099)" points="-5,14 5,14 5,0 14,0 0,-14 -14,0 -5,0"/>
<polygon transform="translate(1076 2099)" points="-5,-14 5,-14 5,0 14,0 0,14 -14,0 -5,0"/>
<polygon transform="translate(1261 2099)" points="-5,14 5,14 5,0 14,0 0,-14 -14,0 -5,0"/>
<polygon transform="translate(1455 2099)" points="-5,-14 5,-14 5,0 14,0 0,14 -14,0 -5,0"/>
</g>

<!-- footnotes -->
<text x="960" y="2294" text-anchor="middle" font-size="37" fill="#1a1a1a" textLength="590" lengthAdjust="spacingAndGlyphs">*Excludes lakefront and acreage Single-Family homes</text>
<text x="960" y="2342" text-anchor="middle" font-size="37" fill="#1a1a1a" textLength="676" lengthAdjust="spacingAndGlyphs">**Percentage indicates change from the same period last year</text>

<!-- footer -->
<rect x="0" y="2392" width="1920" height="168" fill="#0070c0"/>
<text x="61" y="2476" font-size="44" fill="#fff" textLength="303" lengthAdjust="spacingAndGlyphs">Monthly Market Statistics</text>
<text x="1858" y="2445" text-anchor="end" font-size="44" fill="#fff" textLength="532" lengthAdjust="spacingAndGlyphs">Media Contact: media@interiorrealtors.com</text>
<rect x="1512" y="2449" width="346" height="2.5" fill="#fff"/>
<text x="1849" y="2495" text-anchor="end" font-size="44" fill="#fff" textLength="300" lengthAdjust="spacingAndGlyphs">www.interiorrealtors.com</text>
</svg>
</body></html>
